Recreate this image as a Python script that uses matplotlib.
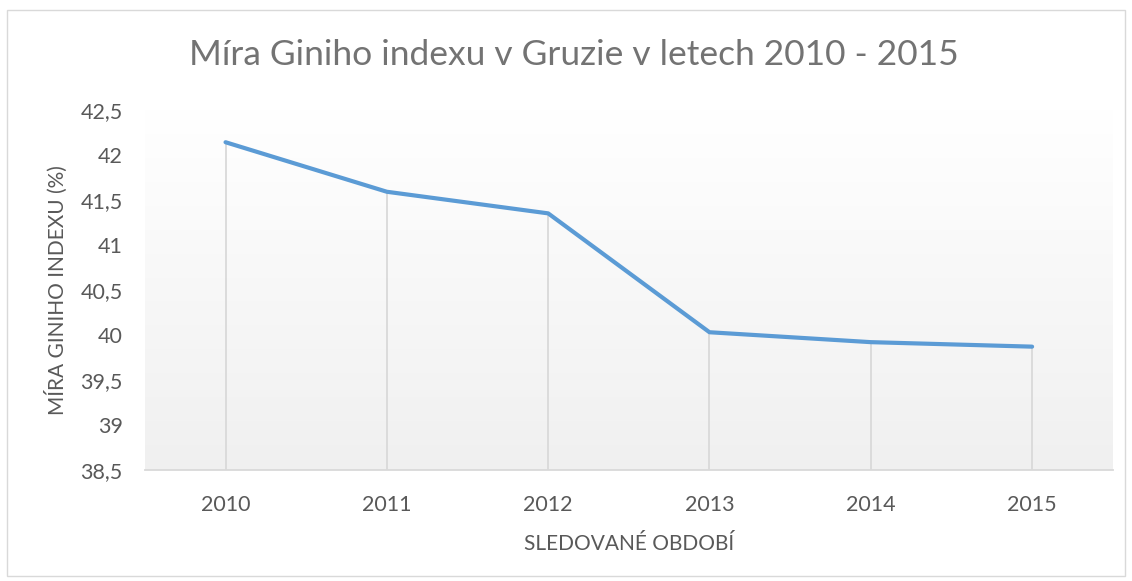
import matplotlib
matplotlib.use("Agg")
import matplotlib.pyplot as plt
import numpy as np
from matplotlib.patches import Rectangle

# data
years = ["2010", "2011", "2012", "2013", "2014", "2015"]
gini = [42.14, 41.59, 41.35, 40.03, 39.92, 39.87]
y_ticks = [38.5, 39, 39.5, 40, 40.5, 41, 41.5, 42, 42.5]

LINE = "#5b9bd5"
TEXT = "#595959"
TITLE = "#737373"
GRID = "#d9d9d9"
FONT = "Lato"

fig = plt.figure(figsize=(11.32, 5.81), dpi=100)
fig.patch.set_facecolor("white")
ax = fig.add_axes([0.128, 0.191, 0.855, 0.620])

x = np.arange(len(years))
ymin, ymax = y_ticks[0], y_ticks[-1]

# soft vertical gradient in the plot area
grad = np.linspace(1.0, 0.0, 256).reshape(-1, 1)
ax.imshow(grad, cmap=matplotlib.colors.LinearSegmentedColormap.from_list(
              "bg", ["#f0f0f0", "#ffffff"]),
          extent=(-0.5, len(years) - 0.5, ymin, ymax),
          aspect="auto", origin="upper", zorder=0, vmin=0, vmax=1)

# drop lines from every point to the axis
ax.vlines(x, ymin, gini, color=GRID, lw=1.3, zorder=1)
ax.plot(x, gini, color=LINE, lw=3.0, solid_capstyle="round",
        solid_joinstyle="round", zorder=3)

ax.set_xlim(-0.5, len(years) - 0.5)
ax.set_ylim(ymin, ymax)
ax.set_xticks(x)
ax.set_xticklabels(years)
ax.set_yticks(y_ticks)
ax.set_yticklabels([f"{v:g}".replace(".", ",") for v in y_ticks])
ax.tick_params(length=0, labelsize=15.5, colors=TEXT)
ax.tick_params(axis="x", pad=18)
ax.tick_params(axis="y", pad=16)
for lab in ax.get_xticklabels() + ax.get_yticklabels():
    lab.set_fontfamily(FONT)

for side in ["top", "right", "left"]:
    ax.spines[side].set_visible(False)
ax.spines["bottom"].set_color(GRID)
ax.spines["bottom"].set_linewidth(1.3)

ax.set_xlabel("SLEDOVANÉ OBDOBÍ", fontsize=15, color=TEXT,
              family=FONT, va="center")
ax.xaxis.set_label_coords(0.5, -0.205)
ax.set_ylabel("MÍRA GINIHO INDEXU (%)", fontsize=15, color=TEXT,
              family=FONT, va="center")
ax.yaxis.set_label_coords(-0.092, 0.5)

fig.text(0.507, 0.905, "Míra Giniho indexu v Gruzie v letech 2010 - 2015",
         ha="center", va="center", fontsize=25.5, color=TITLE, family=FONT)

# light frame round the whole chart
fig.patches.append(Rectangle((0.006, 0.008), 0.988, 0.975,
                             transform=fig.transFigure, fill=False,
                             edgecolor=GRID, lw=1.0))

fig.savefig("out.png", dpi=100, facecolor="white")
